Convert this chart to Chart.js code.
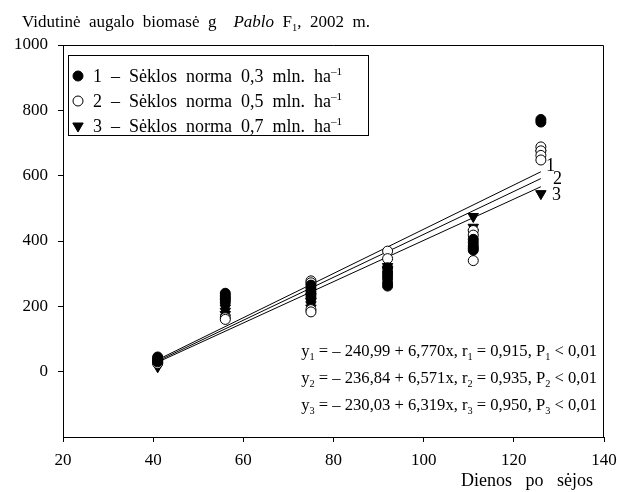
<!DOCTYPE html>
<html>
<head>
<meta charset="utf-8">
<script src="https://cdn.jsdelivr.net/npm/chart.js@4.4.1/dist/chart.umd.min.js"></script>
<style>
	body { margin: 0; background: #fff; }
	#wrap { width: 617px; height: 492px; position: relative; }
</style>
</head>
<body>
<div id="wrap"><canvas id="myChart"></canvas></div>
<script>
// Days after sowing when plants were sampled
const days = [41, 56, 75, 92, 111, 126];

// Plant biomass (g) per sampling day, one list per seed rate
const norm03 = [
	[45, 40, 35, 30],
	[240, 232, 225, 212],
	[265, 255, 245, 235, 225],
	[318, 305, 295, 285, 272, 262],
	[405, 395, 385, 378, 372],
	[772, 764],
];
const norm05 = [
	[30, 25],
	[220, 165, 160],
	[278, 272, 190, 183],
	[369, 346],
	[432, 418, 340],
	[688, 676, 662, 648],
];
const norm07 = [
	[25, 20, 15],
	[195, 185, 175, 165],
	[230, 215, 205, 195],
	[322, 312],
	[475, 442, 425],
	[668, 545],
];

// Linear fits y = a + b*x
const intercepts = [-240.99, -236.84, -230.03];
const slopes = [6.770, 6.571, 6.319];
const rValues = [0.915, 0.935, 0.950];
const fitRange = [41, 126];

const seedRates = ["0,3", "0,5", "0,7"];
const xTicks = [20, 40, 60, 80, 100, 120, 140];
const yTicks = [0, 200, 400, 600, 800, 1000];

const FONT = "Liberation Serif";

function toPoints(groups) {
	const pts = [];
	groups.forEach((vals, i) => {
		vals.forEach((v) => pts.push({ x: days[i], y: v }));
	});
	return pts;
}

function fitLine(k) {
	return fitRange.map((x) => ({ x: x, y: intercepts[k] + slopes[k] * x }));
}

const markers = [
	{ pointStyle: "circle", radius: 5, rotation: 0, fill: "#000" },
	{ pointStyle: "circle", radius: 5, rotation: 0, fill: "#fff" },
	{ pointStyle: "triangle", radius: 6, rotation: 180, fill: "#000" },
];

function comma(v, d) {
	return v.toFixed(d).replace(".", ",");
}

// Draw a run of text pieces, some of them sub/superscript or italic
function drawRich(ctx, parts, x, y, size, align) {
	const widths = parts.map((p) => {
		const s = p.sub || p.sup ? size * 0.62 : size;
		ctx.font = (p.italic ? "italic " : "") + s + "px " + FONT;
		return ctx.measureText(p.t).width;
	});
	const total = widths.reduce((a, b) => a + b, 0);
	let cx = align === "right" ? x - total : x;
	ctx.textAlign = "left";
	ctx.textBaseline = "alphabetic";
	parts.forEach((p, i) => {
		const s = p.sub || p.sup ? size * 0.62 : size;
		ctx.font = (p.italic ? "italic " : "") + s + "px " + FONT;
		let dy = 0;
		if (p.sub) dy = size * 0.22;
		if (p.sup) dy = -size * 0.4;
		ctx.fillText(p.t, cx, y + dy);
		cx += widths[i];
	});
}

const decor = {
	id: "decor",
	beforeDraw(chart) {
		const ctx = chart.ctx;
		ctx.save();
		ctx.fillStyle = "#fff";
		ctx.fillRect(0, 0, chart.width, chart.height);
		ctx.restore();
	},
	afterDraw(chart) {
		const ctx = chart.ctx;
		const area = chart.chartArea;
		const xs = chart.scales.x;
		const ys = chart.scales.y;
		ctx.save();
		ctx.strokeStyle = "#000";
		ctx.fillStyle = "#000";
		ctx.lineWidth = 1;

		// top and right edges of the frame
		const t = Math.round(area.top) + 0.5;
		const r = Math.round(area.right) - 0.5;
		ctx.beginPath();
		ctx.moveTo(area.left, t);
		ctx.lineTo(r, t);
		ctx.lineTo(r, area.bottom);
		ctx.stroke();

		// title
		drawRich(ctx, [
			{ t: "Vidutinė  augalo  biomasė  g    " },
			{ t: "Pablo", italic: true },
			{ t: "  F" },
			{ t: "1", sub: true },
			{ t: ",  2002  m." },
		], 22, 27, 17, "left");

		// x axis title
		drawRich(ctx, [{ t: "Dienos   po   sėjos" }], 593, 486, 18, "right");

		// legend box
		ctx.strokeRect(68.5, 55.5, 300, 80);
		const rows = [76, 101, 126];
		rows.forEach((ry, k) => {
			const m = markers[k];
			ctx.fillStyle = m.fill;
			ctx.strokeStyle = "#000";
			Chart.helpers.drawPoint(ctx, {
				pointStyle: m.pointStyle,
				radius: m.radius,
				rotation: m.rotation,
				borderWidth: 1,
			}, 78, ry);
			ctx.fillStyle = "#000";
			drawRich(ctx, [
				{ t: (k + 1) + "  –  Sėklos  norma  " + seedRates[k] + "  mln.  ha" },
				{ t: "–1", sup: true },
			], 93, ry + 6, 18, "left");
		});

		// regression equations
		const eqRows = [356, 383, 410];
		eqRows.forEach((ey, k) => {
			const n = String(k + 1);
			drawRich(ctx, [
				{ t: "y" }, { t: n, sub: true },
				{ t: " = – " + comma(Math.abs(intercepts[k]), 2) + " + " + comma(slopes[k], 3) + "x, r" },
				{ t: n, sub: true },
				{ t: " = " + comma(rValues[k], 3) + ", P" },
				{ t: n, sub: true },
				{ t: " < 0,01" },
			], 597, ey, 16.6, "right");
		});

		// line numbers at the right end of each fit
		const offs = [[5, -1], [12, 5], [11, 13]];
		ctx.font = "18px " + FONT;
		ctx.textAlign = "left";
		ctx.textBaseline = "alphabetic";
		for (let k = 0; k < 3; k++) {
			const xe = fitRange[1];
			const px = xs.getPixelForValue(xe);
			const py = ys.getPixelForValue(intercepts[k] + slopes[k] * xe);
			ctx.fillText(String(k + 1), px + offs[k][0], py + offs[k][1]);
		}
		ctx.restore();
	},
};

const scatterSets = [norm03, norm05, norm07].map((groups, k) => ({
	type: "scatter",
	data: toPoints(groups),
	pointStyle: markers[k].pointStyle,
	pointRadius: markers[k].radius,
	pointRotation: markers[k].rotation,
	pointBackgroundColor: markers[k].fill,
	pointBorderColor: "#000",
	pointBorderWidth: 1,
	showLine: false,
	order: 1,
}));

const lineSets = [0, 1, 2].map((k) => ({
	type: "line",
	data: fitLine(k),
	borderColor: "#000",
	borderWidth: 1,
	pointRadius: 0,
	fill: false,
	tension: 0,
	order: 2,
}));

var ctx = document.getElementById("myChart").getContext("2d");
var myChart = new Chart(ctx, {
	type: "scatter",
	data: { datasets: scatterSets.concat(lineSets) },
	plugins: [decor],
	options: {
		responsive: true,
		maintainAspectRatio: false,
		animation: false,
		layout: { padding: { top: 45, right: 13, left: 0, bottom: 0 } },
		plugins: {
			legend: { display: false },
			tooltip: { enabled: false },
		},
		scales: {
			x: {
				type: "linear",
				min: 20,
				max: 140,
				afterBuildTicks: (scale) => {
					scale.ticks = xTicks.map((v) => ({ value: v }));
				},
				afterFit: (scale) => {
					scale.height = 55;
					scale.paddingLeft = 0;
					scale.paddingRight = 0;
				},
				grid: {
					drawOnChartArea: false,
					drawTicks: true,
					tickLength: 5,
					color: "#000",
				},
				border: { display: true, color: "#000", width: 1 },
				ticks: {
					color: "#000",
					maxRotation: 0,
					padding: 8,
					font: { family: FONT, size: 17 },
					callback: (v) => String(v),
				},
			},
			y: {
				type: "linear",
				min: -200,
				max: 1000,
				afterBuildTicks: (scale) => {
					scale.ticks = yTicks.map((v) => ({ value: v }));
				},
				afterFit: (scale) => {
					scale.width = 63;
					scale.paddingTop = 0;
					scale.paddingBottom = 0;
				},
				grid: {
					drawOnChartArea: false,
					drawTicks: true,
					tickLength: 5,
					color: "#000",
				},
				border: { display: true, color: "#000", width: 1 },
				ticks: {
					color: "#000",
					padding: 10,
					font: { family: FONT, size: 17 },
					callback: (v) => String(v),
				},
			},
		},
	},
});
</script>
</body>
</html>
